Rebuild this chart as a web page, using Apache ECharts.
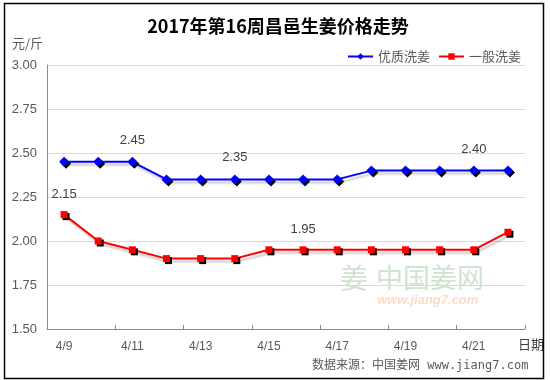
<!DOCTYPE html>
<html>
<head>
<meta charset="utf-8">
<script src="https://cdn.jsdelivr.net/npm/echarts@6/dist/echarts.min.js"></script>
<style>html,body{margin:0;padding:0;background:#fff;}#c{width:550px;height:380px;}</style>
</head>
<body>
<div id="c"></div>
<script>
var categories = ['4/9','4/10','4/11','4/12','4/13','4/14','4/15','4/16','4/17','4/18','4/19','4/20','4/21','4/22'];
var premium = [2.45,2.45,2.45,2.35,2.35,2.35,2.35,2.35,2.35,2.40,2.40,2.40,2.40,2.40];
var normal = [2.15,2.00,1.95,1.90,1.90,1.90,1.95,1.95,1.95,1.95,1.95,1.95,1.95,2.05];
var premiumLabelIdx = [2,5,12];
var normalLabelIdx = [0,7];

function withLabels(arr, idx){
  return arr.map(function(v,i){
    if(idx.indexOf(i) >= 0){
      return {value:v, label:{show:true}};
    }
    return v;
  });
}

var chart = echarts.init(document.getElementById('c'));
var fontCJK = '"Noto Sans CJK SC","Liberation Sans",sans-serif';
chart.setOption({
  animation:false,
  backgroundColor:'#fff',
  title:{
    text:'2017年第16周昌邑生姜价格走势',
    left:273, top:12, textAlign:'center',
    textStyle:{fontSize:18,fontWeight:'bold',color:'#000',fontFamily:fontCJK}
  },
  legend:{
    right:24, top:45,
    itemWidth:25, itemHeight:8, itemGap:8,
    textStyle:{fontSize:13,color:'#595959',fontFamily:fontCJK},
    data:['优质洗姜','一般洗姜']
  },
  grid:{left:47,right:25,top:65,bottom:51},
  xAxis:{
    type:'category',
    data:categories,
    boundaryGap:true,
    axisLine:{lineStyle:{color:'#8c8c8c',width:1}},
    axisTick:{show:true,inside:true,length:4,alignWithLabel:false,lineStyle:{color:'#8c8c8c'}},
    axisLabel:{interval:1,color:'#595959',fontSize:12,margin:12,fontFamily:'"Liberation Sans",sans-serif'},
    splitLine:{show:false}
  },
  yAxis:{
    type:'value',
    min:1.5,max:3.0,interval:0.25,
    axisLine:{show:true,lineStyle:{color:'#8c8c8c'}},
    axisTick:{show:false},
    axisLabel:{color:'#595959',fontSize:13,margin:10,fontFamily:'"Liberation Sans",sans-serif',
      formatter:function(v){return v.toFixed(2);}},
    splitLine:{lineStyle:{color:'#d9d9d9'}}
  },
  graphic:[
    {type:'text',left:12,top:37,style:{text:'元/斤',fontSize:13,fill:'#595959',fontFamily:fontCJK}},
    {type:'text',left:518,top:338,style:{text:'日期',fontSize:13,fill:'#404040',fontFamily:fontCJK}},
    {type:'text',left:312,top:360,style:{text:'数据来源：中国姜网 www.jiang7.com',fontSize:12,fill:'#595959',fontFamily:'"DejaVu Sans Mono","Noto Sans CJK SC",monospace'}},
    {type:'text',left:340,top:264,z:-1,style:{text:'姜',fontSize:28,fill:'#cfe3cf',fontFamily:fontCJK}},
    {type:'text',left:376,top:264,z:-1,style:{text:'中国姜网',fontSize:27,fill:'#cfe3cf',fontFamily:fontCJK}},
    {type:'text',left:377,top:294,z:-1,style:{text:'www.jiang7.com',fontSize:13,fontStyle:'italic',fontWeight:'bold',fill:'#fbdcc8',fontFamily:'"Liberation Sans",sans-serif'}},
    {type:'rect',left:2,top:1,shape:{width:539,height:375},style:{fill:'none',stroke:'#000',lineWidth:1.5}}
  ],
  series:[
    {
      name:'优质洗姜',type:'line',
      data:withLabels(premium,premiumLabelIdx),
      symbol:'diamond',symbolSize:10,
      color:'#0000ff',
      lineStyle:{color:'#0000ff',width:2,shadowColor:'rgba(0,0,0,0.22)',shadowBlur:2,shadowOffsetX:2,shadowOffsetY:3},
      itemStyle:{color:'#0000ff',shadowColor:'#000',shadowBlur:0,shadowOffsetX:2,shadowOffsetY:2},
      label:{show:false,position:'top',distance:10,color:'#404040',fontSize:13,fontFamily:'"Liberation Sans",sans-serif',formatter:function(p){return p.value.toFixed(2);}}
    },
    {
      name:'一般洗姜',type:'line',
      data:withLabels(normal,normalLabelIdx),
      symbol:'rect',symbolSize:7,
      color:'#ff0000',
      lineStyle:{color:'#ff0000',width:2,shadowColor:'rgba(0,0,0,0.22)',shadowBlur:2,shadowOffsetX:2,shadowOffsetY:3},
      itemStyle:{color:'#ff0000',shadowColor:'#000',shadowBlur:0,shadowOffsetX:2,shadowOffsetY:2},
      label:{show:false,position:'top',distance:10,color:'#404040',fontSize:13,fontFamily:'"Liberation Sans",sans-serif',formatter:function(p){return p.value.toFixed(2);}}
    }
  ]
});
</script>
</body>
</html>
